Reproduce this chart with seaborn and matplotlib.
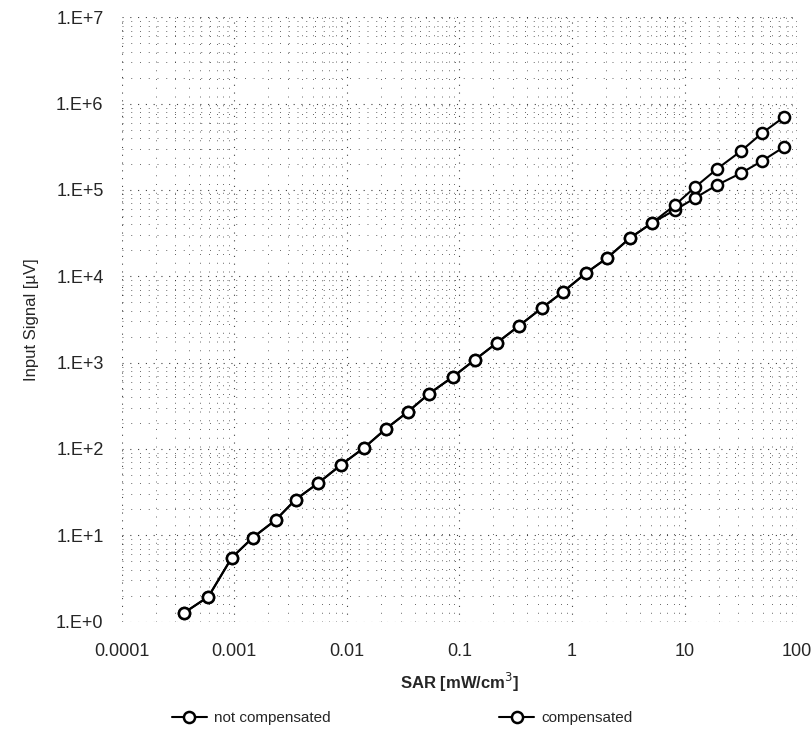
import pandas as pd
import seaborn as sns
import matplotlib.pyplot as plt
from matplotlib.ticker import LogLocator, NullFormatter

# values
sar = [0.00036, 0.00059, 0.00095, 0.00146, 0.00234, 0.0035, 0.0056, 0.0089,
       0.0142, 0.0222, 0.0348, 0.0536, 0.0875, 0.137, 0.215, 0.338, 0.541,
       0.832, 1.33, 2.05, 3.28, 5.14, 8.24, 12.4, 19.4, 31.8, 48.9, 76.6]
signal_not_comp = [1.27, 1.95, 5.5, 9.4, 15.1, 25.9, 40.5, 65.6, 103, 171, 269,
                   435, 685, 1077, 1694, 2666, 4305, 6590, 10900, 16300, 27800,
                   41500, 58700, 80700, 114000, 157000, 217000, 315000]
signal_comp = [1.27, 1.95, 5.5, 9.4, 15.1, 25.9, 40.5, 65.6, 103, 171, 269,
               435, 685, 1077, 1694, 2666, 4305, 6590, 10900, 16300, 27800,
               41500, 67000, 108000, 175000, 283000, 457000, 700000]
series_names = ["not compensated", "compensated"]
x_ticks = [0.0001, 0.001, 0.01, 0.1, 1, 10, 100]
x_tick_labels = ["0.0001", "0.001", "0.01", "0.1", "1", "10", "100"]
y_ticks = [1, 10, 100, 1e3, 1e4, 1e5, 1e6, 1e7]
y_tick_labels = ["1.E+0", "1.E+1", "1.E+2", "1.E+3", "1.E+4", "1.E+5", "1.E+6", "1.E+7"]

df = pd.concat([
    pd.DataFrame({"sar": sar, "signal": signal_not_comp, "series": series_names[0]}),
    pd.DataFrame({"sar": sar, "signal": signal_comp, "series": series_names[1]}),
])

sns.set_style("white")
plt.rcParams['font.family'] = ['Liberation Sans', 'DejaVu Sans']

fig = plt.figure(figsize=(8.11, 7.49), dpi=100)
ax = fig.add_axes([0.150, 0.170, 0.833, 0.807])

sns.lineplot(data=df, x="sar", y="signal", hue="series", hue_order=series_names,
             palette=["black", "black"], style="series", markers=["o", "o"],
             dashes=False, markersize=8, markerfacecolor="white",
             markeredgecolor="black", markeredgewidth=1.8, linewidth=1.5,
             ax=ax, legend=True)

ax.set_xscale("log")
ax.set_yscale("log")
ax.set_xlim(1e-4, 100)
ax.set_ylim(1, 1e7)

ax.xaxis.set_minor_locator(LogLocator(base=10, subs=range(2, 10), numticks=20))
ax.yaxis.set_minor_locator(LogLocator(base=10, subs=range(2, 10), numticks=20))
ax.xaxis.set_minor_formatter(NullFormatter())
ax.yaxis.set_minor_formatter(NullFormatter())
ax.set_xticks(x_ticks, x_tick_labels)
ax.set_yticks(y_ticks, y_tick_labels)
ax.tick_params(axis="both", which="both", length=0, labelsize=13)
ax.tick_params(axis="x", pad=15)
ax.tick_params(axis="y", pad=13)

# sparse dotted grid, like the scanned original
ax.grid(True, which="major", color="black", linestyle=(0, (1, 6)), linewidth=0.8, alpha=0.75)
ax.grid(True, which="minor", color="black", linestyle=(0, (1, 8)), linewidth=0.7, alpha=0.6)
for sp in ax.spines.values():
    sp.set_visible(False)

ax.set_xlabel("SAR [mW/cm$^3$]", fontsize=12, fontweight="bold", labelpad=8)
ax.set_ylabel("Input Signal [µV]", fontsize=12, labelpad=12)

handles, labels = ax.get_legend_handles_labels()
ax.get_legend().remove()
fig.legend(handles, labels, loc="center", bbox_to_anchor=(0.496, 0.041), ncol=2,
           frameon=False, fontsize=11, columnspacing=11, handlelength=2.3,
           handletextpad=0.5)

plt.savefig("out.png", dpi=100)
